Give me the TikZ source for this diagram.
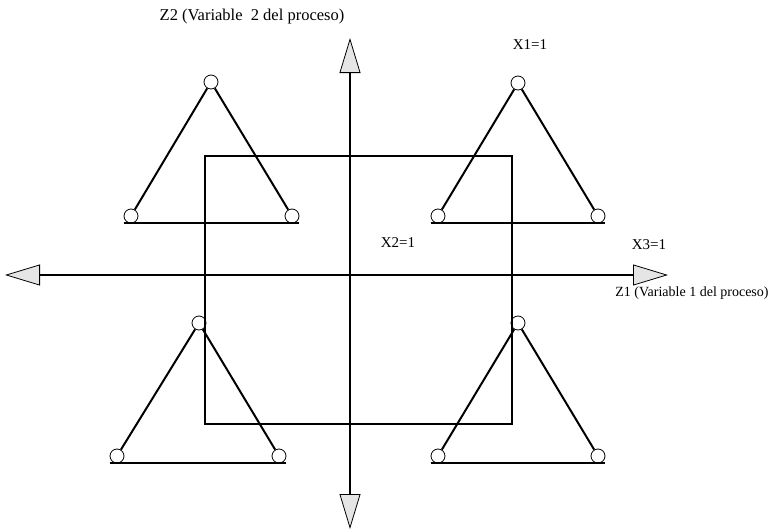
\documentclass[tikz,border=0pt]{standalone}
\usepackage{fontspec}
\setmainfont{Liberation Serif}
\usetikzlibrary{arrows.meta}

\begin{document}
\begin{tikzpicture}[x=1pt,y=-1pt,
  axis/.style={line width=2pt,{Triangle[length=35pt,width=21pt,fill=gray!20,line width=0.8pt]}-{Triangle[length=35pt,width=21pt,fill=gray!20,line width=0.8pt]}},
  joint/.style={draw,circle,inner sep=0pt,minimum size=14pt,line width=0.8pt},
  leg/.style={line width=2pt},
  lab/.style={inner sep=0pt,font=\fontsize{15}{18}\selectfont}]
\useasboundingbox (0,0) rectangle (769,530);
\coordinate (west) at (5,275);
\coordinate (east) at (668,275);
\coordinate (north) at (350,38);
\coordinate (south) at (350,529);
\draw[line width=1.5pt] (205,156) rectangle (512,424);
\draw[axis] (west) -- (east);
\draw[axis,line width=1.4pt] (south) -- (north);
\foreach \nm/\ax/\ay/\lx/\rx/\by in {tl/211/82/131/292/216,tr/518/83/438/598/216,bl/199/323/117/279/456,br/518/323/438/598/456} {
  \node[joint] (\nm-a) at (\ax,\ay) {};
  \node[joint] (\nm-l) at (\lx,\by) {};
  \node[joint] (\nm-r) at (\rx,\by) {};
  \draw[leg] (\nm-a) -- (\nm-l) (\nm-a) -- (\nm-r);
  \draw[leg,line width=2.1pt] (\nm-l.west |- \nm-l.south) -- (\nm-r.east |- \nm-r.south);
}
\node[lab,font=\fontsize{16.5}{19}\selectfont] (z2) at (252,17) {Z2 (Variable\ \ 2 del proceso)};
\node[lab,font=\fontsize{14}{16}\selectfont] (z1) at (692,293) {Z1 (Variable 1 del proceso)};
\node[lab] (x1) at (530,45) {X1=1};
\node[lab] (x2) at (398,243) {X2=1};
\node[lab] (x3) at (649,245) {X3=1};
\end{tikzpicture}
\end{document}
